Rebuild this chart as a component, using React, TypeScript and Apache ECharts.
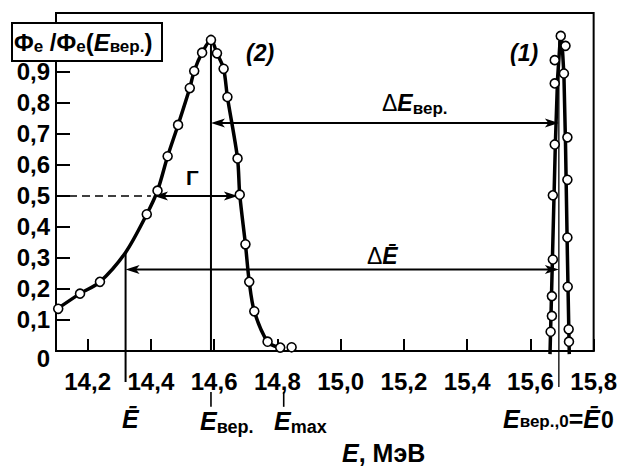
import React, { useEffect, useRef } from 'react';
import * as echarts from 'echarts';

const xTicks = [14.2, 14.4, 14.6, 14.8, 15.0, 15.2, 15.4, 15.6, 15.8];
const yTicks = [0, 0.1, 0.2, 0.3, 0.4, 0.5, 0.6, 0.7, 0.8, 0.9];

// curve (2): smooth line and measured points
const curve2Line = [
  [14.1, 0.133], [14.176, 0.185], [14.239, 0.223], [14.32, 0.318], [14.387, 0.441],
  [14.421, 0.517], [14.453, 0.628], [14.486, 0.729], [14.523, 0.848], [14.537, 0.903],
  [14.562, 0.962], [14.59, 1.003], [14.609, 0.96], [14.63, 0.91], [14.642, 0.819],
  [14.674, 0.621], [14.681, 0.504], [14.699, 0.344], [14.711, 0.223], [14.727, 0.128],
  [14.769, 0.03], [14.805, 0.011],
];
const curve2Points = [
  [14.107, 0.136], [14.176, 0.185], [14.239, 0.223], [14.387, 0.441], [14.421, 0.517],
  [14.453, 0.628], [14.486, 0.729], [14.523, 0.848], [14.537, 0.903], [14.562, 0.962],
  [14.59, 1.003], [14.609, 0.96], [14.63, 0.91], [14.642, 0.819], [14.674, 0.621],
  [14.681, 0.504], [14.699, 0.344], [14.711, 0.223], [14.727, 0.128], [14.769, 0.03],
  [14.809, 0.011], [14.845, 0.012],
];

// curve (1): narrow peak
const curve1Line = [
  [15.662, -0.01], [15.67, 0.31], [15.679, 0.67], [15.686, 0.88], [15.694, 1.0], [15.697, 1.016],
  [15.701, 0.98], [15.706, 0.89], [15.711, 0.67], [15.717, 0.31], [15.723, -0.01],
];
const curve1Points = [
  [15.696, 1.016], [15.711, 0.984], [15.677, 0.938], [15.706, 0.895], [15.677, 0.863],
  [15.717, 0.689], [15.677, 0.666], [15.717, 0.552], [15.671, 0.502], [15.717, 0.366],
  [15.671, 0.295], [15.718, 0.207], [15.668, 0.177], [15.668, 0.113], [15.721, 0.07],
  [15.664, 0.062], [15.722, 0.03],
];

const E_VER = 14.59;
const E_MEAN = 14.32;
const E_MAX = 14.82;
const E_VER0 = 15.69;

const markerLines = [[E_VER, 1.003, E_VER, 0], [E_MEAN, 0.318, E_MEAN, -0.1]];
const labelTicks = [[E_VER, -0.132, E_VER, -0.18], [E_MAX, -0.132, E_MAX, -0.18]];
const thinLines = [[E_VER0, 1.0, E_VER0, -0.116]];
const arrowLines = [[E_VER, 0.735, E_VER0, 0.735], [E_MEAN, 0.263, E_VER0, 0.263], [14.41, 0.5, 14.675, 0.5]];
const dashedLines = [[14.1, 0.5, 14.4, 0.5]];

const FF = "'Liberation Sans', Arial, Helvetica, sans-serif";

function rich(fs: number, sub: number, drop: number) {
  return {
    n: { fontSize: fs, fontFamily: FF, fontWeight: 'bold', lineHeight: fs, verticalAlign: 'top', fill: '#000' },
    r: { fontSize: fs, fontFamily: FF, fontWeight: 'normal', lineHeight: fs, verticalAlign: 'top', fill: '#000' },
    i: { fontSize: fs, fontFamily: FF, fontStyle: 'italic', fontWeight: 'bold', lineHeight: fs, verticalAlign: 'top', fill: '#000' },
    bi: { fontSize: fs, fontFamily: FF, fontStyle: 'italic', fontWeight: 'bold', lineHeight: fs, verticalAlign: 'top', fill: '#000' },
    s: { fontSize: sub, fontFamily: FF, fontWeight: 'bold', lineHeight: sub, verticalAlign: 'top', padding: [drop, 0, 0, 0], fill: '#000' },
    z: { fontSize: fs - 2, fontFamily: FF, fontWeight: 'bold', lineHeight: fs - 2, verticalAlign: 'top', padding: [2, 0, 0, 1], fill: '#000' },
  };
}

type Lbl = { x: number; y: number; text: string; fs: number; sub: number; drop: number };
const labels: Lbl[] = [
  { x: 14, y: 30, text: '{n|Φ}{s|e}{n| /Φ}{s|e}{n|(}{i|E}{s|вер.}{n|)}', fs: 24, sub: 17, drop: 8 },
  { x: 246, y: 41, text: '{bi|(2)}', fs: 23, sub: 15, drop: 8 },
  { x: 510, y: 41, text: '{bi|(1)}', fs: 23, sub: 15, drop: 8 },
  { x: 382, y: 91, text: '{r|Δ}{i|E}{s|вер.}', fs: 23, sub: 17, drop: 9 },
  { x: 367, y: 244, text: '{r|Δ}{i|Ē}', fs: 23, sub: 17, drop: 9 },
  { x: 186, y: 167, text: '{n|Γ}', fs: 21, sub: 14, drop: 6 },
  { x: 122, y: 406, text: '{i|Ē}', fs: 25, sub: 17, drop: 9 },
  { x: 200, y: 408, text: '{i|E}{s|вер.}', fs: 25, sub: 18, drop: 10 },
  { x: 274, y: 408, text: '{i|E}{s|max}', fs: 25, sub: 18, drop: 10 },
  { x: 503, y: 406, text: '{i|E}{s|вер.,0}{n|=}{i|Ē}{z|0}', fs: 25, sub: 17, drop: 7 },
  { x: 342, y: 440, text: '{i|E}{n|, МэВ}', fs: 25, sub: 16, drop: 8 },
];

function segSeries(data: number[][], lineWidth: number, mode: 'plain' | 'dash' | 'arrow') {
  return {
    type: 'custom',
    data,
    encode: { x: [0, 2], y: [1, 3] },
    clip: false,
    silent: true,
    z: 5,
    renderItem: (params: any, api: any) => {
      const p1 = api.coord([api.value(0), api.value(1)]);
      const p2 = api.coord([api.value(2), api.value(3)]);
      const dx = p2[0] - p1[0];
      const dy = p2[1] - p1[1];
      const len = Math.hypot(dx, dy) || 1;
      const ux = dx / len;
      const uy = dy / len;
      const children: any[] = [];
      if (mode === 'arrow') {
        const L = 14;
        const W = 4.5;
        const head = (t: number[], sx: number, sy: number) => ({
          type: 'polygon',
          shape: {
            points: [
              [t[0], t[1]],
              [t[0] - sx * L - sy * W, t[1] - sy * L + sx * W],
              [t[0] - sx * L * 0.75, t[1] - sy * L * 0.75],
              [t[0] - sx * L + sy * W, t[1] - sy * L - sx * W],
            ],
          },
          style: { fill: '#000' },
        });
        children.push({
          type: 'line',
          shape: { x1: p1[0] + ux * 8, y1: p1[1] + uy * 8, x2: p2[0] - ux * 8, y2: p2[1] - uy * 8 },
          style: { stroke: '#000', lineWidth },
        });
        children.push(head(p1, -ux, -uy));
        children.push(head(p2, ux, uy));
      } else {
        children.push({
          type: 'line',
          shape: { x1: p1[0], y1: p1[1], x2: p2[0], y2: p2[1] },
          style: { stroke: '#000', lineWidth, lineDash: mode === 'dash' ? [8, 5] : null },
        });
      }
      return { type: 'group', children };
    },
  };
}

export default function App() {
  const ref = useRef<HTMLDivElement>(null);
  useEffect(() => {
    document.body.style.margin = '0';
    const chart = echarts.init(ref.current as HTMLDivElement, null, { renderer: 'svg' });
    const fmt = (v: number) => (Math.abs(v) < 1e-9 ? '0' : v.toFixed(1).replace('.', ','));
    const fmtY = (v: number) => (Math.abs(v) < 1e-9 ? '{z|0}' : v.toFixed(1).replace('.', ','));
    const option: any = {
      animation: false,
      backgroundColor: '#fff',
      grid: { left: 56, right: 26, top: 13, bottom: 116, show: true, borderColor: '#000', borderWidth: 2, containLabel: false },
      xAxis: {
        type: 'value',
        min: 14.1,
        max: 15.8,
        axisLine: { show: true, lineStyle: { color: '#000', width: 2 } },
        axisTick: { show: true, inside: true, length: 12, lineStyle: { color: '#000', width: 2 }, customValues: xTicks },
        axisLabel: {
          customValues: xTicks,
          formatter: fmt,
          color: '#000',
          fontSize: 24,
          fontWeight: 'bold',
          fontFamily: FF,
          margin: 18,
        },
        splitLine: { show: false },
      },
      yAxis: {
        type: 'value',
        min: 0,
        max: 1.09,
        axisLine: { show: true, lineStyle: { color: '#000', width: 2 } },
        axisTick: { show: true, inside: true, length: 14, lineStyle: { color: '#000', width: 2 }, customValues: yTicks },
        axisLabel: {
          customValues: yTicks,
          formatter: fmtY,
          color: '#000',
          fontSize: 24,
          fontWeight: 'bold',
          fontFamily: FF,
          margin: 6,
          rich: {
            z: { fontSize: 24, fontWeight: 'bold', fontFamily: FF, color: '#000', padding: [14, 0, 0, 0] },
          },
        },
        splitLine: { show: false },
      },
      series: [
        {
          type: 'line',
          data: curve2Line,
          smooth: 0.3,
          showSymbol: false,
          clip: false,
          lineStyle: { color: '#000', width: 3.5 },
          z: 2,
        },
        {
          type: 'line',
          data: curve1Line,
          smooth: false,
          showSymbol: false,
          clip: false,
          lineStyle: { color: '#000', width: 3.5 },
          z: 2,
        },
        segSeries(markerLines, 2, 'plain'),
        segSeries(labelTicks, 1.6, 'plain'),
        segSeries(thinLines, 1.3, 'plain'),
        segSeries(arrowLines, 2, 'arrow'),
        segSeries(dashedLines, 1.5, 'dash'),
        {
          type: 'scatter',
          data: curve2Points,
          symbol: 'circle',
          symbolSize: 9,
          itemStyle: { color: '#fff', borderColor: '#000', borderWidth: 1.6, opacity: 1 },
          z: 6,
        },
        {
          type: 'scatter',
          data: curve1Points,
          symbol: 'circle',
          symbolSize: 9,
          itemStyle: { color: '#fff', borderColor: '#000', borderWidth: 1.6, opacity: 1 },
          z: 6,
        },
      ],
      graphic: {
        elements: [
          {
            type: 'rect',
            z: 100,
            shape: { x: 12, y: 23, width: 150, height: 38 },
            style: { fill: '#fff', stroke: '#000', lineWidth: 2 },
          },
          ...labels.map((l) => ({
            type: 'text',
            z: 101,
            x: l.x,
            y: l.y,
            style: {
              text: l.text,
              rich: rich(l.fs, l.sub, l.drop),
              fill: '#000',
              align: 'left',
              verticalAlign: 'top',
            },
          })),
        ],
      },
    };
    chart.setOption(option);
    return () => chart.dispose();
  }, []);
  return <div ref={ref} style={{ width: 620, height: 467 }} />;
}
